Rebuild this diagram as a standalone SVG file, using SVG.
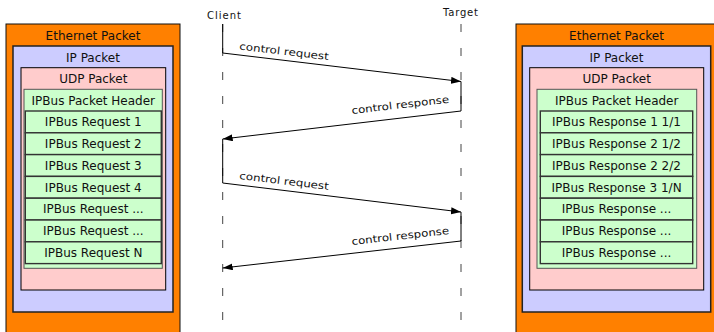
<svg xmlns="http://www.w3.org/2000/svg" width="714" height="332" viewBox="0 0 714 332">
<defs>
<marker id="ah" markerUnits="userSpaceOnUse" markerWidth="11" markerHeight="8" refX="10" refY="3.5" orient="auto">
<path d="M0,0 L10,3.5 L0,7 z" fill="#000"/>
</marker>
<style>
.eth{fill:#FF8000;stroke:#111;stroke-width:1}
.ip{fill:#CCCCFF;stroke:#222;stroke-width:1.5}
.udp{fill:#FFCCCC;stroke:#000;stroke-width:1}
.grn{fill:#CCFFCC;stroke:#555;stroke-width:1}
.row{fill:#CCFFCC;stroke:#333;stroke-width:1.4}
.t{font-family:"DejaVu Sans",sans-serif;font-size:12px;fill:#111;text-anchor:middle}
.s{font-family:"DejaVu Sans",sans-serif;font-size:10px;fill:#111}
.life{stroke:#444;stroke-width:1;stroke-dasharray:8 16;fill:none}
.act{stroke:#000;stroke-width:1;fill:none}
.msg{stroke:#000;stroke-width:1;fill:none;marker-end:url(#ah)}
</style>
</defs>
<rect width="714" height="332" fill="#fff"/>

<g id="client-packet">
<rect class="eth" x="6" y="24" width="174" height="320"/>
<text class="t" x="93" y="40">Ethernet Packet</text>
<rect class="ip" x="13" y="46" width="160" height="266"/>
<text class="t" x="93" y="61.7">IP Packet</text>
<rect class="udp" x="21" y="67.7" width="144.7" height="222.3"/>
<text class="t" x="93.3" y="83.3">UDP Packet</text>
<rect class="grn" x="24" y="89.3" width="138.3" height="179"/>
<text class="t" x="93.3" y="105">IPBus Packet Header</text>
<rect class="row" x="25.3" y="111" width="136" height="21.8"/>
<rect class="row" x="25.3" y="132.8" width="136" height="21.8"/>
<rect class="row" x="25.3" y="154.6" width="136" height="21.8"/>
<rect class="row" x="25.3" y="176.4" width="136" height="21.8"/>
<rect class="row" x="25.3" y="198.2" width="136" height="21.8"/>
<rect class="row" x="25.3" y="220" width="136" height="21.8"/>
<rect class="row" x="25.3" y="241.8" width="136" height="21.8"/>
<text class="t" x="93.3" y="126.2">IPBus Request 1</text>
<text class="t" x="93.3" y="148">IPBus Request 2</text>
<text class="t" x="93.3" y="169.8">IPBus Request 3</text>
<text class="t" x="93.3" y="191.6">IPBus Request 4</text>
<text class="t" x="93.3" y="213.4">IPBus Request ...</text>
<text class="t" x="93.3" y="235.2">IPBus Request ...</text>
<text class="t" x="93.3" y="257">IPBus Request N</text>
</g>

<g id="target-packet">
<rect class="eth" x="516" y="24" width="210" height="320"/>
<text class="t" x="616.5" y="40">Ethernet Packet</text>
<rect class="ip" x="522.3" y="46" width="188.4" height="266"/>
<text class="t" x="616.5" y="61.7">IP Packet</text>
<rect class="udp" x="529.7" y="67.7" width="174" height="222.3"/>
<text class="t" x="616.7" y="83.3">UDP Packet</text>
<rect class="grn" x="537" y="89.3" width="159.7" height="179"/>
<text class="t" x="616.7" y="105">IPBus Packet Header</text>
<rect class="row" x="540.3" y="111" width="152.4" height="21.8"/>
<rect class="row" x="540.3" y="132.8" width="152.4" height="21.8"/>
<rect class="row" x="540.3" y="154.6" width="152.4" height="21.8"/>
<rect class="row" x="540.3" y="176.4" width="152.4" height="21.8"/>
<rect class="row" x="540.3" y="198.2" width="152.4" height="21.8"/>
<rect class="row" x="540.3" y="220" width="152.4" height="21.8"/>
<rect class="row" x="540.3" y="241.8" width="152.4" height="21.8"/>
<text class="t" x="616.5" y="126.2">IPBus Response 1 1/1</text>
<text class="t" x="616.5" y="148">IPBus Response 2 1/2</text>
<text class="t" x="616.5" y="169.8">IPBus Response 2 2/2</text>
<text class="t" x="616.5" y="191.6">IPBus Response 3 1/N</text>
<text class="t" x="616.5" y="213.4">IPBus Response ...</text>
<text class="t" x="616.5" y="235.2">IPBus Response ...</text>
<text class="t" x="616.5" y="257">IPBus Response ...</text>
</g>

<g id="client">
<text class="s" x="224" y="18.5" text-anchor="middle" textLength="34" lengthAdjust="spacing">Client</text>
<line class="life" x1="222.7" y1="24" x2="222.7" y2="332"/>
<line class="act" x1="222.7" y1="24" x2="222.7" y2="53"/>
<line class="act" x1="222.7" y1="139" x2="222.7" y2="183"/>
</g>

<g id="target">
<text class="s" x="460.5" y="15.5" text-anchor="middle" textLength="35" lengthAdjust="spacing">Target</text>
<line class="life" x1="461" y1="24" x2="461" y2="332"/>
<line class="act" x1="461" y1="81.5" x2="461" y2="111"/>
<line class="act" x1="461" y1="212" x2="461" y2="241"/>
</g>

<g id="connectors">
<line class="msg" x1="222.7" y1="53" x2="461" y2="81.5"/>
<text class="s" transform="translate(239,49.5) rotate(6.8)" textLength="90" lengthAdjust="spacingAndGlyphs">control request</text>
<line class="msg" x1="461" y1="111" x2="222.7" y2="139"/>
<text class="s" transform="translate(352,114) rotate(-6.7)" textLength="98" lengthAdjust="spacingAndGlyphs">control response</text>
<line class="msg" x1="222.7" y1="183" x2="461" y2="212"/>
<text class="s" transform="translate(239,179) rotate(6.9)" textLength="90" lengthAdjust="spacingAndGlyphs">control request</text>
<line class="msg" x1="461" y1="241" x2="222.7" y2="268"/>
<text class="s" transform="translate(352,245) rotate(-6.5)" textLength="98" lengthAdjust="spacingAndGlyphs">control response</text>
</g>
</svg>
